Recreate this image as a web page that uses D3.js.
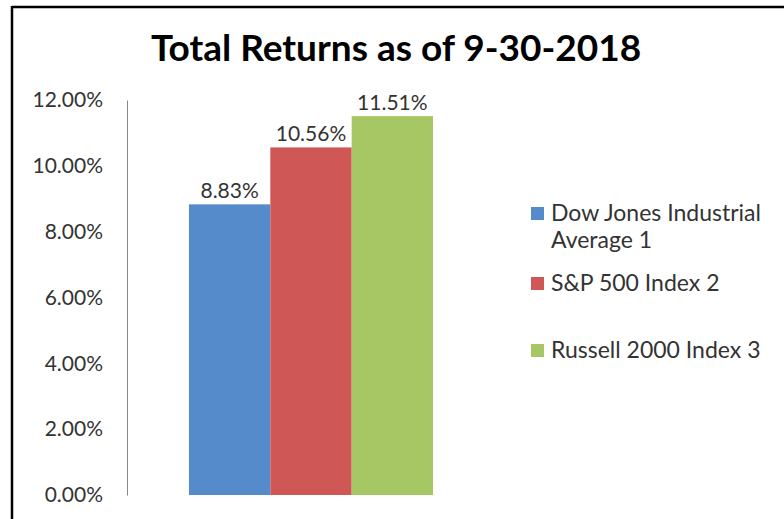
<!DOCTYPE html>
<html lang="en">
  <head>
    <meta charset="UTF-8" />
    <title>Total Returns as of 9-30-2018</title>
    <script src="https://cdnjs.cloudflare.com/ajax/libs/d3/7.8.5/d3.min.js"></script>
    <style>
      body {
        margin: 0;
        background: #fff;
        font-family: Lato, "Open Sans", sans-serif;
      }
      .ytick text {
        font-size: 21px;
        fill: #333;
      }
    </style>
  </head>
  <body>
    <div id="chart"></div>
    <script>
      // data
      const series = ["Dow Jones Industrial Average 1", "S&P 500 Index 2", "Russell 2000 Index 3"];
      const legendLines = [["Dow Jones Industrial", "Average 1"], ["S&P 500 Index 2"], ["Russell 2000 Index 3"]];
      const values = [8.83, 10.56, 11.51];
      const colors = ["#568bcb", "#cf5755", "#a6c764"];
      const yTicks = [0, 2, 4, 6, 8, 10, 12];

      const width = 784;
      const height = 519;
      const margin = { left: 127, right: 289, top: 100, bottom: 24 };

      const svg = d3
        .select("#chart")
        .append("svg")
        .attr("width", width)
        .attr("height", height);

      // frame: only top and left edges show
      svg.append("line").attr("x1", 12).attr("x2", width).attr("y1", 7).attr("y2", 7)
        .attr("stroke", "#000").attr("stroke-width", 2.5);
      svg.append("line").attr("x1", 12).attr("x2", 12).attr("y1", 6).attr("y2", height)
        .attr("stroke", "#000").attr("stroke-width", 2.5);

      svg
        .append("text")
        .attr("x", 396)
        .attr("y", 61)
        .attr("text-anchor", "middle")
        .attr("font-size", 37)
        .attr("font-weight", "bold")
        .attr("fill", "#000")
        .text("Total Returns as of 9-30-2018");

      const y = d3
        .scaleLinear()
        .domain([0, 12])
        .range([height - margin.bottom, margin.top]);

      // one category, three series side by side
      const x0 = d3
        .scaleBand()
        .domain(["2018"])
        .range([margin.left, width - margin.right])
        .paddingInner(0)
        .paddingOuter(0.254);
      const x1 = d3.scaleBand().domain(series).range([0, x0.bandwidth()]);

      // y axis: line only, no tick marks
      const yAxis = svg
        .append("g")
        .attr("class", "ytick")
        .attr("transform", `translate(${margin.left},0)`)
        .call(
          d3
            .axisLeft(y)
            .tickValues(yTicks)
            .tickSize(0)
            .tickPadding(24)
            .tickFormat((d) => d3.format(".2f")(d) + "%")
        );
      yAxis.select(".domain").attr("stroke", "#888").attr("stroke-width", 1);
      yAxis.selectAll("text").attr("font-family", "Lato, sans-serif");

      const g = svg.append("g").attr("transform", `translate(${x0("2018")},0)`);

      g.selectAll("rect")
        .data(values)
        .enter()
        .append("rect")
        .attr("x", (d, i) => x1(series[i]))
        .attr("y", (d) => y(d))
        .attr("width", x1.bandwidth())
        .attr("height", (d) => y(0) - y(d))
        .attr("fill", (d, i) => colors[i]);

      g.selectAll("text.label")
        .data(values)
        .enter()
        .append("text")
        .attr("class", "label")
        .attr("x", (d, i) => x1(series[i]) + x1.bandwidth() / 2)
        .attr("y", (d) => y(d) - 6)
        .attr("text-anchor", "middle")
        .attr("font-size", 21)
        .attr("fill", "#333")
        .text((d) => d.toFixed(2) + "%");

      // legend
      const legendY = [213, 283, 350];
      const legend = svg
        .selectAll("g.legend")
        .data(legendLines)
        .enter()
        .append("g")
        .attr("class", "legend")
        .attr("transform", (d, i) => `translate(531,${legendY[i]})`);

      legend
        .append("rect")
        .attr("x", 0)
        .attr("y", -6)
        .attr("width", 13)
        .attr("height", 13)
        .attr("fill", (d, i) => colors[i]);

      legend
        .append("text")
        .attr("x", 20)
        .attr("y", 8)
        .attr("font-size", 23)
        .attr("fill", "#333")
        .selectAll("tspan")
        .data((d) => d)
        .enter()
        .append("tspan")
        .attr("x", 20)
        .attr("dy", (d, i) => (i === 0 ? 0 : 27))
        .text((d) => d);
    </script>
  </body>
</html>
